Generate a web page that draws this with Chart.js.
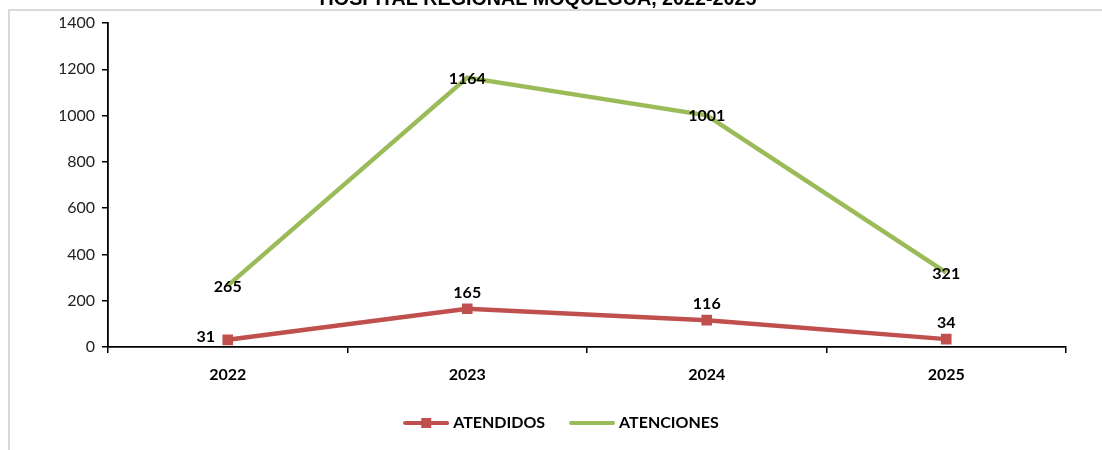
<!DOCTYPE html>
<html>
<head>
<meta charset="utf-8">
<script src="https://cdn.jsdelivr.net/npm/chart.js@4.4.1/dist/chart.umd.min.js"></script>
<style>
html,body{margin:0;padding:0;background:#fff;}
#wrap{position:relative;width:1102px;height:450px;overflow:hidden;}
canvas{display:block;}
</style>
</head>
<body>
<div id="wrap"><canvas id="c" width="1102" height="450"></canvas></div>
<script>
const titleText = "HOSPITAL REGIONAL MOQUEGUA, 2022-2025";
const categories = ["2022", "2023", "2024", "2025"];
const atendidos = [31, 165, 116, 34];
const atenciones = [265, 1164, 1001, 321];
const yTicks = [0, 200, 400, 600, 800, 1000, 1200, 1400];

const RED = "#C0504D";
const GREEN = "#9BBB59";
const FONT = "Lato, 'Noto Sans', sans-serif";

function legendIcon(color, withMarker) {
  const c = document.createElement("canvas");
  c.width = 46; c.height = 14;
  const g = c.getContext("2d");
  g.strokeStyle = color; g.lineWidth = 4; g.lineCap = "round";
  g.beginPath(); g.moveTo(2, 7); g.lineTo(44, 7); g.stroke();
  if (withMarker) { g.fillStyle = color; g.fillRect(18, 2, 10, 10); }
  return c;
}
const icons = [legendIcon(RED, true), legendIcon(GREEN, false)];

const framePlugin = {
  id: "frame",
  beforeDraw(chart) {
    const ctx = chart.ctx;
    ctx.save();
    ctx.fillStyle = "#fff";
    ctx.fillRect(0, 0, chart.width, chart.height);
    ctx.strokeStyle = "#D9D9D9";
    ctx.lineWidth = 2;
    ctx.beginPath();
    ctx.moveTo(9, chart.height + 5);
    ctx.lineTo(9, 10);
    ctx.lineTo(chart.width + 5, 10);
    ctx.stroke();
    ctx.restore();
  },
  afterDraw(chart) {
    const ctx = chart.ctx;
    ctx.save();
    ctx.font = "bold 100px 'Liberation Sans', Arial, sans-serif";
    const w100 = ctx.measureText(titleText).width;
    const size = 100 * 437 / w100;
    ctx.font = "bold " + size.toFixed(2) + "px 'Liberation Sans', Arial, sans-serif";
    ctx.fillStyle = "#000";
    ctx.textAlign = "center";
    ctx.textBaseline = "alphabetic";
    ctx.fillText(titleText, 538, 5);
    ctx.restore();
  }
};

const labelPlugin = {
  id: "valueLabels",
  afterDatasetsDraw(chart) {
    const ctx = chart.ctx;
    ctx.save();
    ctx.font = "bold 16px " + FONT;
    ctx.fillStyle = "#000";
    ctx.textBaseline = "middle";
    chart.data.datasets.forEach((ds, di) => {
      const meta = chart.getDatasetMeta(di);
      meta.data.forEach((pt, i) => {
        const v = ds.data[i];
        let x = pt.x, y = pt.y;
        ctx.textAlign = "center";
        if (di === 0) {
          if (i === 0) { x -= 22; y -= 3; }
          else { y -= 16; }
        } else {
          y += 1;
        }
        ctx.fillText(String(v), x, y);
      });
    });
    ctx.restore();
  }
};

new Chart(document.getElementById("c"), {
  type: "line",
  data: {
    labels: categories,
    datasets: [
      {
        label: "ATENDIDOS",
        data: atendidos,
        borderColor: RED,
        backgroundColor: RED,
        borderWidth: 4.5,
        pointStyle: "rect",
        pointRadius: 7.5,
        pointBorderWidth: 0,
        pointBackgroundColor: RED,
        tension: 0
      },
      {
        label: "ATENCIONES",
        data: atenciones,
        borderColor: GREEN,
        backgroundColor: GREEN,
        borderWidth: 4.5,
        pointRadius: 0,
        tension: 0
      }
    ]
  },
  options: {
    responsive: false,
    animation: false,
    layout: { padding: { left: 60, right: 36, top: 23, bottom: 9 } },
    plugins: {
      title: { display: false },
      tooltip: { enabled: false },
      legend: {
        position: "bottom",
        labels: {
          usePointStyle: true,
          pointStyleWidth: 38,
          padding: 28,
          color: "#000",
          font: { family: FONT, size: 16, weight: "bold" },
          generateLabels(chart) {
            return chart.data.datasets.map((ds, i) => ({
              text: ds.label,
              pointStyle: icons[i],
              fillStyle: ds.borderColor,
              strokeStyle: ds.borderColor,
              lineWidth: 0,
              datasetIndex: i,
              hidden: false,
              fontColor: "#000"
            }));
          }
        }
      }
    },
    scales: {
      x: {
        type: "category",
        offset: true,
        afterFit(s) { s.height = 40; },
        grid: {
          display: true,
          offset: true,
          drawOnChartArea: false,
          drawTicks: true,
          tickLength: 6,
          color: "#000",
          tickColor: "#000",
          lineWidth: 1.5
        },
        border: { display: true, color: "#000", width: 1.8 },
        ticks: {
          color: "#000",
          padding: 12,
          font: { family: FONT, size: 16, weight: "bold" }
        }
      },
      y: {
        min: 0,
        max: 1400,
        afterFit(s) { s.width = 48; },
        afterBuildTicks(s) { s.ticks = yTicks.map(v => ({ value: v })); },
        grid: {
          display: true,
          drawOnChartArea: false,
          drawTicks: true,
          tickLength: 6,
          color: "#000",
          tickColor: "#000",
          lineWidth: 1.5
        },
        border: { display: true, color: "#000", width: 1.8 },
        ticks: {
          color: "#222",
          padding: 7,
          font: { family: FONT, size: 16 },
          callback(v) { return String(v); }
        }
      }
    }
  },
  plugins: [framePlugin, labelPlugin]
});
</script>
</body>
</html>
